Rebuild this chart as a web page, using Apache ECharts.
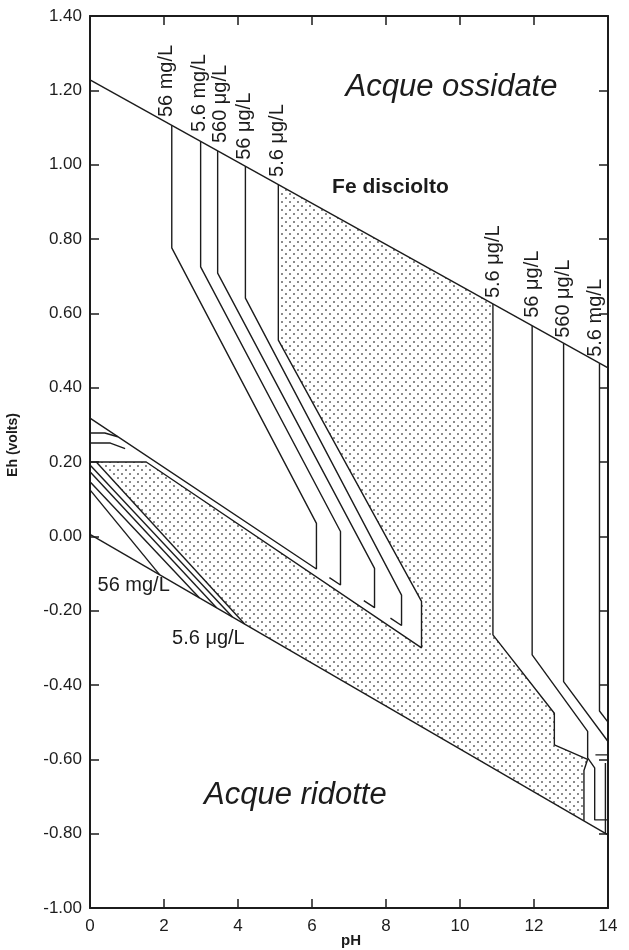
<!DOCTYPE html>
<html><head><meta charset="utf-8">
<script src="https://cdn.jsdelivr.net/npm/echarts@6/dist/echarts.min.js"></script>
<style>html,body{margin:0;padding:0;background:#fff}#c{width:629px;height:950px}</style>
</head><body><div id="c"></div><script>
// ---- tick values ----
const xTicks = [0, 2, 4, 6, 8, 10, 12, 14];
const yTicks = [-1.0, -0.8, -0.6, -0.4, -0.2, 0, 0.2, 0.4, 0.6, 0.8, 1.0, 1.2, 1.4];

// ---- water stability limits [pH, Eh] ----
const upperWater = [[0, 1.228], [14, 0.453]];
const lowerWater = [[0, 0.005], [14, -0.803]];

// ---- acid-side contours of dissolved Fe ----
const acid56mg  = [[2.21, 1.106], [2.21, 0.776], [6.12, 0.035], [6.12, -0.088], [0, 0.318]];
const acid5_6mg = [[2.99, 1.062], [2.99, 0.725], [6.77, 0.013], [6.77, -0.131], [6.47, -0.111]];
const acid560ug = [[3.45, 1.037], [3.45, 0.708], [7.69, -0.086], [7.69, -0.192], [7.40, -0.173]];
const acid56ug  = [[4.20, 0.996], [4.20, 0.641], [8.42, -0.158], [8.42, -0.240], [8.12, -0.220]];
const acid5_6ug = [[5.09, 0.946], [5.09, 0.528], [8.96, -0.175], [8.96, -0.300], [1.52, 0.200], [0, 0.200]];
const topHookA  = [[0, 0.278], [0.40, 0.278], [0.75, 0.268]];
const topHookB  = [[0, 0.251], [0.55, 0.251], [0.95, 0.236]];

// ---- steep lines to the lower water limit ----
const steep56mg  = [[0, 0.125], [1.88, -0.103]];
const steep5_6mg = [[0, 0.147], [2.96, -0.166]];
const steep560ug = [[0, 0.174], [3.42, -0.192]];
const steep56ug  = [[0, 0.192], [3.85, -0.217]];
const steep5_6ug = [[0.17, 0.200], [4.18, -0.236]];

// ---- alkaline-side contours ----
const alk5_6ug = [[10.89, 0.625], [10.89, -0.265], [12.55, -0.476], [12.55, -0.561], [13.45, -0.600], [13.35, -0.630], [13.35, -0.765]];
const alk56ug  = [[11.95, 0.566], [11.95, -0.319], [13.45, -0.525], [13.45, -0.596], [13.64, -0.623], [13.64, -0.763], [14, -0.763]];
const alk560ug = [[12.80, 0.519], [12.80, -0.391], [14, -0.552]];
const alk5_6mg = [[13.77, 0.466], [13.77, -0.470], [14, -0.500]];
const alkExtraA = [[13.66, -0.588], [14, -0.588]];
const alkExtraB = [[13.93, -0.610], [13.93, -0.800]];

// ---- shaded field (below 5.6 ug/L) ----
const shadedField = [
  [5.09, 0.946], [10.89, 0.625], [10.89, -0.265], [12.55, -0.476], [12.55, -0.561],
  [13.45, -0.600], [13.35, -0.630], [13.35, -0.765], [4.18, -0.236], [0.17, 0.200],
  [1.52, 0.200], [8.96, -0.300], [8.96, -0.175], [5.09, 0.528]
];

// ---- text labels [text, pH, Eh] ----
const rotLabels = [
  ['56 mg/L', 2.08, 1.128], ['5.6 mg/L', 2.96, 1.088], ['560 μg/L', 3.54, 1.058],
  ['56 μg/L', 4.18, 1.013], ['5.6 μg/L', 5.08, 0.967],
  ['5.6 μg/L', 10.91, 0.641], ['56 μg/L', 11.95, 0.588], ['560 μg/L', 12.80, 0.534], ['5.6 mg/L', 13.66, 0.483]
];
const flatLabels = [['56 mg/L', 1.18, -0.133], ['5.6 μg/L', 3.20, -0.276]];
const bigLabels = [['Acque ossidate', 9.77, 1.209], ['Acque ridotte', 5.55, -0.696]];
const boldLabels = [['Fe disciolto', 8.12, 0.94]];

// ---- dot pattern ----
const pc = document.createElement('canvas');
pc.width = 8; pc.height = 8;
const g = pc.getContext('2d');
g.fillStyle = '#5a5a5a';
[[2, 2], [6, 6]].forEach(p => { g.beginPath(); g.arc(p[0], p[1], 0.95, 0, Math.PI * 2); g.fill(); });

const INK = '#1c1c1c';
const FONT = 'Liberation Sans';
const chart = echarts.init(document.getElementById('c'));

const polylines = [upperWater, lowerWater, acid56mg, acid5_6mg, acid560ug, acid56ug, acid5_6ug,
  topHookA, topHookB, steep56mg, steep5_6mg, steep560ug, steep56ug, steep5_6ug,
  alk5_6ug, alk56ug, alk560ug, alk5_6mg, alkExtraA, alkExtraB];

const lineSeries = polylines.map(d => ({
  type: 'line', data: d, symbol: 'none', silent: true, animation: false, z: 3,
  lineStyle: { color: INK, width: 1.4 }
}));

function axisCommon(pos) {
  return {
    axisLine: { show: true, onZero: false, lineStyle: { color: INK, width: 2 } },
    axisTick: { show: true, inside: true, length: 9, lineStyle: { color: INK, width: 1.5 } },
    splitLine: { show: false }, position: pos
  };
}

chart.setOption({
  animation: false,
  backgroundColor: '#fff',
  grid: { left: 90, right: 21, top: 16, bottom: 42 },
  xAxis: [
    Object.assign({ type: 'value', min: xTicks[0], max: xTicks[xTicks.length - 1], interval: 2,
      axisLabel: { color: INK, fontSize: 17, fontFamily: FONT, margin: 10, showMinLabel: true, showMaxLabel: true } }, axisCommon('bottom')),
    Object.assign({ type: 'value', min: 0, max: 14, interval: 2, axisLabel: { show: false } }, axisCommon('top'))
  ],
  yAxis: [
    Object.assign({ type: 'value', min: yTicks[0], max: yTicks[yTicks.length - 1], interval: 0.2,
      axisLabel: { color: INK, fontSize: 17, fontFamily: FONT, margin: 8, showMinLabel: true, showMaxLabel: true,
        formatter: v => (Math.abs(v) < 1e-9 ? '0.00' : v.toFixed(2)) } }, axisCommon('left')),
    Object.assign({ type: 'value', min: -1, max: 1.4, interval: 0.2, axisLabel: { show: false } }, axisCommon('right'))
  ],
  series: [{
    type: 'custom', silent: true, z: 1, data: [0],
    renderItem: function (params, api) {
      const pts = shadedField.map(p => api.coord(p));
      return { type: 'polygon', shape: { points: pts },
        style: { fill: { image: pc, repeat: 'repeat' }, stroke: null } };
    }
  }].concat(lineSeries)
});

const conv = p => chart.convertToPixel({ xAxisIndex: 0, yAxisIndex: 0 }, p);
const graphics = [];
rotLabels.forEach(l => {
  const p = conv([l[1], l[2]]);
  graphics.push({ type: 'text', x: p[0], y: p[1], rotation: Math.PI / 2, z: 10,
    style: { text: l[0], fill: INK, font: '20px "' + FONT + '"', align: 'left', verticalAlign: 'middle' } });
});
flatLabels.forEach(l => {
  const p = conv([l[1], l[2]]);
  graphics.push({ type: 'text', x: p[0], y: p[1], z: 10,
    style: { text: l[0], fill: INK, font: '20px "' + FONT + '"', align: 'center', verticalAlign: 'middle' } });
});
bigLabels.forEach(l => {
  const p = conv([l[1], l[2]]);
  graphics.push({ type: 'text', x: p[0], y: p[1], z: 10,
    style: { text: l[0], fill: INK, font: 'italic 31px "' + FONT + '"', align: 'center', verticalAlign: 'middle' } });
});
boldLabels.forEach(l => {
  const p = conv([l[1], l[2]]);
  graphics.push({ type: 'text', x: p[0], y: p[1], z: 10,
    style: { text: l[0], fill: INK, font: 'bold 21px "' + FONT + '"', align: 'center', verticalAlign: 'middle' } });
});
// axis titles
const mid = conv([7, 0.2]);
graphics.push({ type: 'text', x: 13, y: mid[1] - 17, rotation: Math.PI / 2, z: 10,
  style: { text: 'Eh (volts)', fill: INK, font: 'bold 14px "' + FONT + '"', align: 'center', verticalAlign: 'middle' } });
graphics.push({ type: 'text', x: mid[0] + 2, y: 941, z: 10,
  style: { text: 'pH', fill: INK, font: 'bold 15px "' + FONT + '"', align: 'center', verticalAlign: 'middle' } });
chart.setOption({ graphic: graphics });
</script></body></html>
